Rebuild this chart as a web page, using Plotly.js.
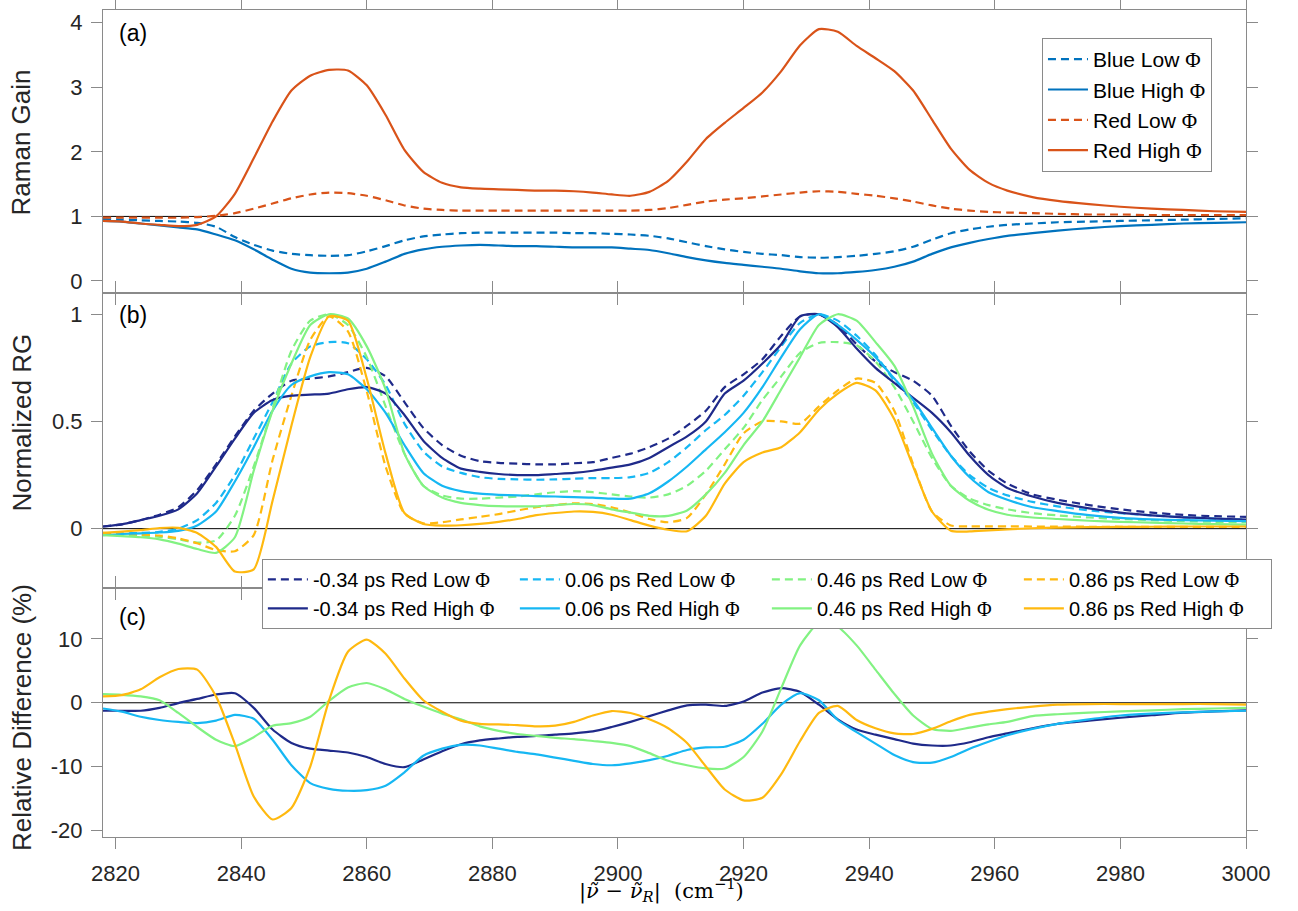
<!DOCTYPE html>
<html>
<head>
<meta charset="utf-8">
<script src="https://cdn.plot.ly/plotly-3.0.1.min.js"></script>
<style>html,body{margin:0;padding:0;background:#fff;}</style>
</head>
<body>
<div id="chart" style="width:1298px;height:911px;"></div>
<script>
// ---------- data ----------
const wavenumber = [2818,2821,2824,2827,2830,2833,2836,2839,2842,2845,2848,2851,2854,2857,2860,2863,2866,2869,2872,2875,2878,2881,2884,2887,2890,2893,2896,2899,2902,2905,2908,2911,2914,2917,2920,2923,2926,2929,2932,2935,2938,2941,2944,2947,2950,2953,2956,2959,2962,2966,2970,2975,2980,2985,2990,2995,3000];

// panel (a) Raman gain
const blueLow  = [0.96,0.95,0.94,0.93,0.92,0.9,0.84,0.68,0.56,0.47,0.42,0.4,0.39,0.4,0.46,0.54,0.63,0.69,0.72,0.74,0.75,0.75,0.75,0.75,0.75,0.74,0.74,0.73,0.72,0.7,0.66,0.6,0.54,0.49,0.45,0.42,0.4,0.37,0.36,0.37,0.39,0.42,0.46,0.53,0.64,0.74,0.8,0.84,0.87,0.89,0.91,0.92,0.93,0.94,0.95,0.96,0.97];
const blueHigh = [0.93,0.92,0.89,0.86,0.83,0.8,0.72,0.63,0.49,0.33,0.19,0.13,0.12,0.13,0.19,0.3,0.42,0.49,0.53,0.55,0.56,0.55,0.54,0.54,0.53,0.52,0.52,0.52,0.5,0.48,0.43,0.37,0.32,0.28,0.25,0.22,0.19,0.15,0.12,0.12,0.14,0.17,0.22,0.3,0.42,0.52,0.59,0.65,0.7,0.74,0.78,0.82,0.85,0.87,0.89,0.9,0.91];
const redLow   = [0.98,0.98,0.98,0.98,0.98,0.99,1.01,1.05,1.12,1.2,1.28,1.34,1.37,1.36,1.32,1.25,1.17,1.12,1.1,1.09,1.09,1.09,1.09,1.09,1.09,1.09,1.09,1.09,1.09,1.1,1.13,1.18,1.23,1.26,1.28,1.31,1.34,1.37,1.39,1.38,1.35,1.32,1.28,1.23,1.17,1.12,1.09,1.07,1.06,1.05,1.04,1.03,1.03,1.02,1.02,1.02,1.02];
const redHigh  = [0.93,0.92,0.89,0.87,0.85,0.87,1.0,1.35,1.9,2.47,2.95,3.18,3.27,3.26,3.03,2.57,2.03,1.69,1.52,1.45,1.43,1.42,1.41,1.4,1.4,1.39,1.37,1.34,1.32,1.38,1.55,1.85,2.2,2.45,2.68,2.92,3.25,3.65,3.9,3.86,3.64,3.45,3.25,2.95,2.5,2.05,1.72,1.52,1.4,1.3,1.24,1.19,1.15,1.12,1.1,1.08,1.07];

// panel (b) normalized Raman gain (Red)
const navyLow   = [0.01,0.02,0.04,0.065,0.1,0.18,0.3,0.43,0.55,0.63,0.69,0.7,0.71,0.73,0.75,0.71,0.59,0.47,0.39,0.34,0.315,0.307,0.303,0.3,0.3,0.305,0.31,0.33,0.35,0.38,0.42,0.48,0.55,0.66,0.72,0.79,0.9,0.99,1.0,0.95,0.86,0.78,0.73,0.69,0.62,0.48,0.36,0.27,0.21,0.16,0.135,0.11,0.09,0.075,0.064,0.058,0.055];
const navyHigh  = [0.01,0.02,0.04,0.06,0.09,0.165,0.29,0.42,0.54,0.6,0.62,0.625,0.63,0.65,0.66,0.63,0.53,0.41,0.33,0.28,0.265,0.255,0.25,0.25,0.255,0.26,0.27,0.285,0.3,0.33,0.38,0.43,0.5,0.63,0.69,0.77,0.86,0.99,1.0,0.94,0.84,0.75,0.68,0.61,0.54,0.45,0.34,0.25,0.19,0.15,0.12,0.095,0.075,0.062,0.053,0.047,0.042];
const cyanLow   = [-0.025,-0.022,-0.02,-0.015,0.0,0.04,0.12,0.25,0.42,0.59,0.77,0.85,0.87,0.865,0.79,0.67,0.49,0.36,0.29,0.26,0.24,0.232,0.23,0.228,0.23,0.233,0.236,0.236,0.24,0.26,0.31,0.38,0.46,0.53,0.62,0.73,0.85,0.96,1.0,0.97,0.9,0.81,0.69,0.59,0.46,0.34,0.25,0.19,0.155,0.125,0.104,0.085,0.072,0.062,0.053,0.047,0.042];
const cyanHigh  = [-0.03,-0.025,-0.022,-0.018,-0.01,0.015,0.08,0.22,0.38,0.55,0.67,0.71,0.73,0.72,0.65,0.54,0.39,0.26,0.2,0.175,0.163,0.158,0.155,0.152,0.15,0.147,0.145,0.14,0.14,0.165,0.22,0.29,0.37,0.45,0.54,0.66,0.8,0.93,1.0,0.95,0.88,0.8,0.7,0.6,0.47,0.34,0.24,0.17,0.135,0.1,0.082,0.063,0.05,0.043,0.04,0.037,0.035];
const greenLow  = [-0.025,-0.028,-0.032,-0.038,-0.05,-0.065,-0.055,0.06,0.29,0.56,0.83,0.97,1.0,0.95,0.8,0.57,0.35,0.2,0.155,0.14,0.14,0.145,0.15,0.16,0.17,0.175,0.17,0.16,0.15,0.145,0.16,0.2,0.27,0.37,0.47,0.6,0.71,0.82,0.866,0.87,0.855,0.78,0.66,0.5,0.33,0.2,0.14,0.11,0.09,0.072,0.062,0.052,0.045,0.04,0.035,0.032,0.03];
const greenHigh = [-0.03,-0.035,-0.04,-0.05,-0.07,-0.095,-0.113,-0.04,0.27,0.55,0.77,0.95,1.0,0.98,0.85,0.65,0.35,0.2,0.145,0.12,0.11,0.105,0.104,0.104,0.11,0.115,0.11,0.09,0.075,0.06,0.06,0.085,0.16,0.26,0.39,0.5,0.65,0.8,0.95,1.0,0.97,0.87,0.76,0.57,0.35,0.2,0.13,0.088,0.065,0.052,0.045,0.037,0.032,0.028,0.024,0.021,0.019];
const orangeLow = [-0.02,-0.024,-0.028,-0.032,-0.045,-0.068,-0.1,-0.105,-0.03,0.32,0.62,0.88,0.99,0.92,0.64,0.29,0.07,0.025,0.03,0.043,0.055,0.068,0.085,0.1,0.11,0.118,0.115,0.1,0.075,0.045,0.03,0.05,0.16,0.3,0.445,0.5,0.5,0.49,0.57,0.645,0.7,0.68,0.55,0.3,0.08,0.015,0.011,0.011,0.011,0.01,0.01,0.009,0.009,0.008,0.008,0.008,0.008];
const orangeHigh= [-0.02,-0.014,-0.007,0.003,0.004,-0.02,-0.085,-0.2,-0.19,0.13,0.48,0.8,0.99,0.97,0.7,0.35,0.073,0.022,0.014,0.016,0.022,0.032,0.045,0.063,0.073,0.08,0.078,0.065,0.04,0.014,-0.005,-0.012,0.06,0.21,0.31,0.355,0.38,0.45,0.555,0.63,0.68,0.645,0.51,0.29,0.08,-0.01,-0.013,-0.008,-0.003,0.002,0.005,0.007,0.008,0.009,0.01,0.01,0.01];

// panel (c) relative difference (%)
const navyDiff   = [-1.25,-1.25,-1.25,-0.8,-0.05,0.6,1.3,1.5,-0.8,-4.2,-6.3,-7.2,-7.5,-7.8,-8.5,-9.6,-10.1,-8.9,-7.6,-6.5,-5.9,-5.6,-5.35,-5.2,-5.0,-4.8,-4.5,-3.8,-3.0,-2.1,-1.2,-0.4,-0.3,-0.5,0.2,1.6,2.3,1.7,-0.3,-2.6,-4.2,-5.0,-5.7,-6.4,-6.7,-6.7,-6.2,-5.4,-4.8,-4.0,-3.3,-2.8,-2.35,-1.95,-1.55,-1.35,-1.2];
const cyanDiff   = [-0.9,-1.4,-2.2,-2.7,-3.0,-3.2,-2.8,-1.9,-2.5,-5.8,-9.8,-12.6,-13.5,-13.8,-13.7,-13.0,-10.9,-8.3,-7.2,-6.6,-6.7,-7.2,-7.7,-8.1,-8.6,-9.1,-9.6,-9.8,-9.5,-9.0,-8.3,-7.4,-7.0,-6.9,-5.8,-3.3,-0.3,1.5,0.4,-2.7,-4.6,-6.4,-8.2,-9.3,-9.4,-8.5,-7.2,-6.1,-5.1,-4.1,-3.3,-2.6,-2.0,-1.7,-1.5,-1.35,-1.25];
const greenDiff  = [1.35,1.25,1.0,0.4,-1.6,-3.8,-5.8,-6.8,-5.4,-3.6,-3.2,-2.2,0.3,2.4,3.1,2.1,0.6,-0.6,-1.7,-2.6,-3.7,-4.4,-4.9,-5.2,-5.5,-5.7,-6.0,-6.3,-6.8,-7.9,-9.1,-9.8,-10.3,-10.3,-8.5,-4.5,2.3,9.0,12.5,11.9,9.0,5.2,1.4,-2.0,-4.1,-4.4,-3.9,-3.4,-3.0,-2.1,-1.8,-1.55,-1.35,-1.2,-1.0,-0.9,-0.8];
const orangeDiff = [1.0,1.2,2.1,4.0,5.3,5.2,1.0,-6.5,-14.7,-18.3,-16.5,-10.0,0.4,8.0,9.9,7.7,3.8,0.4,-1.4,-2.8,-3.3,-3.4,-3.5,-3.7,-3.6,-3.0,-2.0,-1.3,-1.6,-2.6,-4.0,-6.3,-10.0,-13.6,-15.3,-14.9,-11.2,-6.0,-1.6,-0.5,-2.7,-4.0,-4.8,-4.9,-4.1,-2.9,-1.9,-1.4,-1.0,-0.6,-0.3,-0.2,-0.2,-0.2,-0.2,-0.2,-0.3];

const delays = ['-0.34', '0.06', '0.46', '0.86'];
const xTicks = [2820,2840,2860,2880,2900,2920,2940,2960,2980,3000];
const baselineA = 1, baselineB = 0, baselineC = 0;

// ---------- styling ----------
const FONT = 'Liberation Sans, Arial, Helvetica, sans-serif';
const SERIF = "'DejaVu Serif', 'Liberation Serif', serif";
const PHI = '<span style="font-family:\'Liberation Serif\',serif">Φ</span>';
const AXC = '#8a8a8a';
const TXT = '#262626';
const C_BLUE = '#0072BD', C_RED = '#D95319';
const delayColors = ['#1F2A8A', '#16B7F3', '#82F282', '#FFB90F'];
const DASH = '8px,5px';
const LW = 2.2;

function tr(y, xa, ya, name, color, dash, legend, show) {
  return {x: wavenumber, y: y, xaxis: xa, yaxis: ya, type: 'scatter', mode: 'lines',
    name: name, legend: legend, showlegend: show,
    line: {color: color, width: LW, dash: dash, shape: 'spline', smoothing: 0.6},
    hoverinfo: 'skip'};
}

const data = [
  tr(blueLow,  'x', 'y', 'Blue Low ' + PHI,  C_BLUE, DASH, 'legend', true),
  tr(blueHigh, 'x', 'y', 'Blue High ' + PHI, C_BLUE, 'solid', 'legend', true),
  tr(redLow,   'x', 'y', 'Red Low ' + PHI,   C_RED, DASH, 'legend', true),
  tr(redHigh,  'x', 'y', 'Red High ' + PHI,  C_RED, 'solid', 'legend', true)
];
const lowB = [navyLow, cyanLow, greenLow, orangeLow];
const highB = [navyHigh, cyanHigh, greenHigh, orangeHigh];
const diffC = [navyDiff, cyanDiff, greenDiff, orangeDiff];
for (let i = 0; i < 4; i++) data.push(tr(lowB[i], 'x2', 'y2', delays[i] + ' ps Red Low ' + PHI, delayColors[i], DASH, 'legend2', true));
for (let i = 0; i < 4; i++) data.push(tr(highB[i], 'x2', 'y2', delays[i] + ' ps Red High ' + PHI, delayColors[i], 'solid', 'legend2', true));
for (let i = 0; i < 4; i++) data.push(tr(diffC[i], 'x3', 'y3', delays[i] + ' diff', delayColors[i], 'solid', 'legend2', false));

function xax(anchor, labels) {
  return {anchor: anchor, domain: [0, 1], range: [2818, 3000], tickvals: xTicks,
    showticklabels: labels, ticks: 'outside', ticklen: 11, tickwidth: 1, tickcolor: AXC,
    showline: true, linecolor: AXC, linewidth: 1, mirror: 'allticks',
    showgrid: false, zeroline: false, ticklabelstandoff: 6,
    tickfont: {family: FONT, size: 22, color: TXT}};
}
function yax(anchor, domain, range, tickvals, ticktext) {
  return {anchor: anchor, domain: domain, range: range, tickvals: tickvals, ticktext: ticktext,
    ticks: 'outside', ticklen: 11, tickwidth: 1, tickcolor: AXC,
    showline: true, linecolor: AXC, linewidth: 1, mirror: 'allticks',
    showgrid: false, zeroline: false, ticklabelstandoff: 4,
    tickfont: {family: FONT, size: 22, color: TXT}};
}

function hline(xa, ya, v) {
  return {type: 'line', xref: xa, yref: ya, x0: 2818, x1: 3000, y0: v, y1: v,
    line: {color: '#000', width: 1}, layer: 'below'};
}

function ann(text, x, y, opts) {
  return Object.assign({text: text, x: x, y: y, xref: 'paper', yref: 'paper', showarrow: false,
    xanchor: 'center', yanchor: 'middle', font: {family: FONT, size: 26, color: TXT}}, opts || {});
}

const layout = {
  width: 1298, height: 911,
  margin: {l: 103, r: 52, t: 10, b: 74},
  paper_bgcolor: '#fff', plot_bgcolor: '#fff',
  showlegend: true,
  xaxis: xax('y', false),
  xaxis2: xax('y2', false),
  xaxis3: xax('y3', true),
  yaxis: yax('x', [0.6578, 1], [-0.186, 4.197], [0, 1, 2, 3, 4], ['0', '1', '2', '3', '4']),
  yaxis2: yax('x2', [0.3005, 0.6578], [-0.279, 1.099], [0, 0.5, 1], ['0', '0.5', '1']),
  yaxis3: yax('x3', [0, 0.3005], [-21.05, 17.92], [-20, -10, 0, 10], ['-20', '-10', '0', '10']),
  shapes: [hline('x', 'y', baselineA), hline('x2', 'y2', baselineB), hline('x3', 'y3', baselineC)],
  legend: {x: 0.8215, y: 0.9661, xanchor: 'left', yanchor: 'top', bgcolor: '#fff',
    bordercolor: AXC, borderwidth: 1, font: {family: FONT, size: 21, color: '#000'},
    tracegroupgap: 0, itemwidth: 40},
  legend2: {orientation: 'h', x: 0.139, y: 0.3362, xanchor: 'left', yanchor: 'top', bgcolor: '#fff',
    bordercolor: AXC, borderwidth: 1, font: {family: FONT, size: 20, color: '#000'},
    entrywidth: 197, entrywidthmode: 'pixels', itemwidth: 40, traceorder: 'normal'},
  annotations: [
    ann('Raman Gain', -0.0709, 0.8398, {textangle: -90}),
    ann('Normalized RG', -0.0709, 0.5012, {textangle: -90}),
    ann('Relative Difference (%)', -0.0709, 0.1451, {textangle: -90}),
    ann('(a)', 0.0122, 0.9722, {xanchor: 'left', font: {family: FONT, size: 23, color: '#000'}}),
    ann('(b)', 0.0122, 0.6312, {xanchor: 'left', font: {family: FONT, size: 23, color: '#000'}}),
    ann('(c)', 0.0122, 0.266, {xanchor: 'left', font: {family: FONT, size: 23, color: '#000'}}),
    ann('|<i>ν̃</i> − <i>ν̃</i><sub><i>R</i></sub>|  (cm<sup>−1</sup>)', 0.489, -0.064,
      {font: {family: SERIF, size: 21, color: '#000'}})
  ]
};

Plotly.newPlot('chart', data, layout, {displayModeBar: false, staticPlot: true});
</script>
</body>
</html>
